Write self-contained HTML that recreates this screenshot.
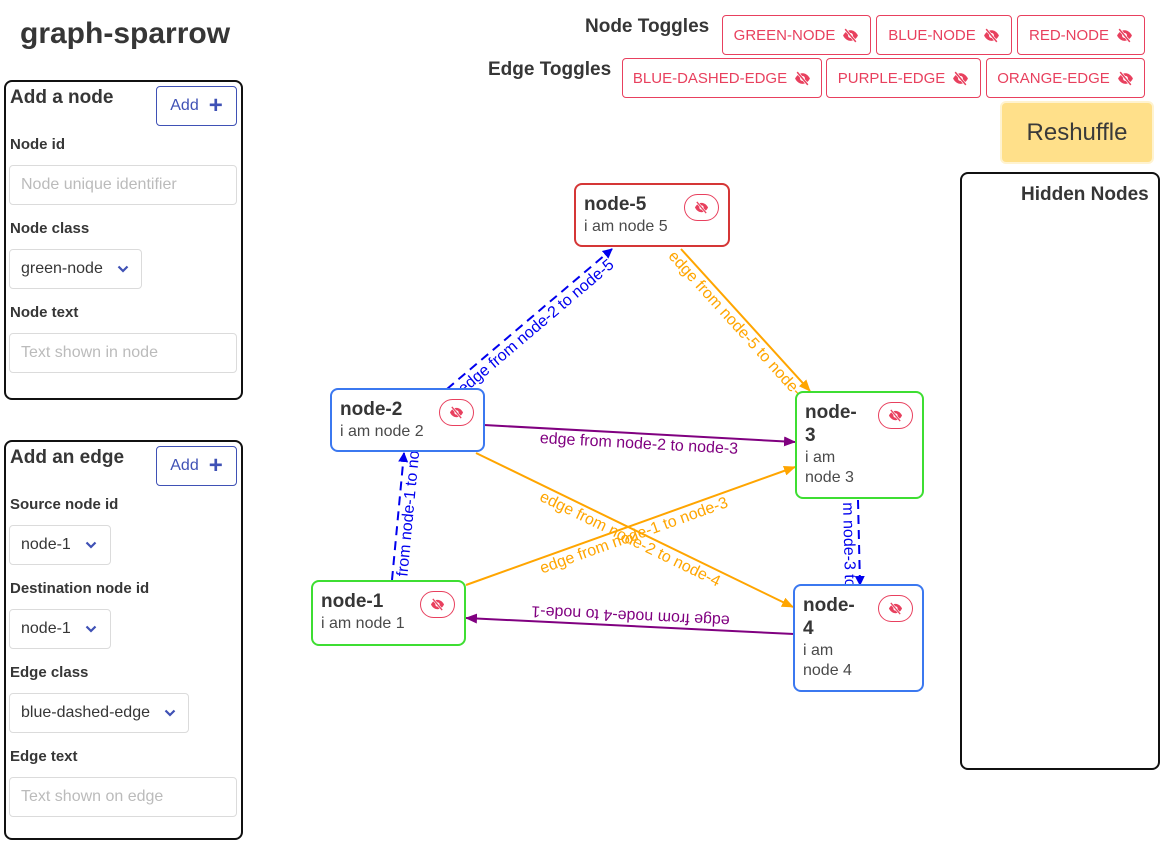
<!DOCTYPE html>
<html><head><meta charset="utf-8"><style>
*{box-sizing:border-box;margin:0;padding:0}
body{width:1163px;height:843px;position:relative;background:#fff;font-family:"Liberation Sans",sans-serif;color:#363636;overflow:hidden}
.a{position:absolute}
.panel{position:absolute;border:2px solid #111;border-radius:8px;background:#fff}
.h{position:absolute;font-weight:bold;font-size:19px;color:#363636}
.lbl{position:absolute;font-weight:bold;font-size:15px;color:#363636}
.inp{position:absolute;border:1px solid #dbdbdb;border-radius:4px;font-size:16px;color:#bbb;padding-left:11px;display:flex;align-items:center}
.sel{position:absolute;border:1px solid #dbdbdb;border-radius:4px;font-size:16px;color:#363636;padding-left:11px;display:flex;align-items:center}
.sel svg{margin-left:14px}
.add{position:absolute;border:1px solid #3f51b5;border-radius:4px;color:#3f51b5;font-size:16px;display:flex;align-items:center;justify-content:center;gap:10px;background:#fff}
.tg{position:absolute;border:1px solid #e8405e;border-radius:4px;color:#e8405e;font-size:15px;display:flex;align-items:center;justify-content:center;gap:7px;background:#fff;height:40px}
.node{position:absolute;border:2px solid;border-radius:8px;background:#fff;padding:8px 8px}
.node b{display:block;font-size:19px;color:#363636;line-height:23px}
.node span{display:block;font-size:16px;color:#4a4a4a;line-height:20px;margin-top:1px}
.eye{position:absolute;top:9px;right:9px;width:35px;height:27px;border:1px solid #e8405e;border-radius:14px;display:flex;align-items:center;justify-content:center}
</style></head><body>
<svg width="0" height="0" style="position:absolute"><defs>
<symbol id="es" viewBox="0 0 16 16"><path d="M1 8c2-4 5-5 7-5s5 1 7 5c-2 4-5 5-7 5S3 12 1 8z" fill="#e8405e"/><circle cx="8" cy="8" r="2.3" fill="#fff"/><line x1="3" y1="2" x2="13" y2="14" stroke="#fff" stroke-width="2.6"/><line x1="3" y1="2" x2="13" y2="14" stroke="#e8405e" stroke-width="1.4"/></symbol>
<symbol id="chev" viewBox="0 0 12 8"><path d="M1.5 1.5l4.5 4.5 4.5-4.5" fill="none" stroke="#3f51b5" stroke-width="2.2"/></symbol>
</defs></svg>

<div class="a" style="left:20px;top:17px;font-size:30px;font-weight:bold;color:#363636">graph-sparrow</div>

<div class="panel" style="left:4px;top:80px;width:239px;height:320px"></div>
<div class="h" style="left:10px;top:87px">Add a node</div>
<div class="add" style="left:156px;top:86px;width:81px;height:40px">Add <span style="font-size:24px;font-weight:bold;line-height:1">+</span></div>
<div class="lbl" style="left:10px;top:136px">Node id</div>
<div class="inp" style="left:9px;top:165px;width:228px;height:40px">Node unique identifier</div>
<div class="lbl" style="left:10px;top:220px">Node class</div>
<div class="sel" style="left:9px;top:249px;width:133px;height:40px">green-node<svg width="12" height="8"><use href="#chev"/></svg></div>
<div class="lbl" style="left:10px;top:304px">Node text</div>
<div class="inp" style="left:9px;top:333px;width:228px;height:40px">Text shown in node</div>

<div class="panel" style="left:4px;top:440px;width:239px;height:400px"></div>
<div class="h" style="left:10px;top:447px">Add an edge</div>
<div class="add" style="left:156px;top:446px;width:81px;height:40px">Add <span style="font-size:24px;font-weight:bold;line-height:1">+</span></div>
<div class="lbl" style="left:10px;top:496px">Source node id</div>
<div class="sel" style="left:9px;top:525px;width:102px;height:40px">node-1<svg width="12" height="8"><use href="#chev"/></svg></div>
<div class="lbl" style="left:10px;top:580px">Destination node id</div>
<div class="sel" style="left:9px;top:609px;width:102px;height:40px">node-1<svg width="12" height="8"><use href="#chev"/></svg></div>
<div class="lbl" style="left:10px;top:664px">Edge class</div>
<div class="sel" style="left:9px;top:693px;width:180px;height:40px">blue-dashed-edge<svg width="12" height="8"><use href="#chev"/></svg></div>
<div class="lbl" style="left:10px;top:748px">Edge text</div>
<div class="inp" style="left:9px;top:777px;width:228px;height:40px">Text shown on edge</div>

<div class="h" style="left:585px;top:16px">Node Toggles</div>
<div class="tg" style="left:722px;top:15px;width:149px">GREEN-NODE<svg width="17" height="17"><use href="#es"/></svg></div>
<div class="tg" style="left:876px;top:15px;width:136px">BLUE-NODE<svg width="17" height="17"><use href="#es"/></svg></div>
<div class="tg" style="left:1017px;top:15px;width:128px">RED-NODE<svg width="17" height="17"><use href="#es"/></svg></div>
<div class="h" style="left:488px;top:59px">Edge Toggles</div>
<div class="tg" style="left:622px;top:58px;width:200px">BLUE-DASHED-EDGE<svg width="17" height="17"><use href="#es"/></svg></div>
<div class="tg" style="left:826px;top:58px;width:155px">PURPLE-EDGE<svg width="17" height="17"><use href="#es"/></svg></div>
<div class="tg" style="left:986px;top:58px;width:159px">ORANGE-EDGE<svg width="17" height="17"><use href="#es"/></svg></div>

<div class="a" style="left:1000px;top:101px;width:154px;height:63px;border:2px solid #fff3d0;border-radius:6px;background:#ffe08a;display:flex;align-items:center;justify-content:center;font-size:24px;color:#3a3a3a">Reshuffle</div>

<div class="panel" style="left:960px;top:172px;width:200px;height:598px"></div>
<div class="h" style="left:1021px;top:184px">Hidden Nodes</div>

<svg class="a" style="left:0;top:0" width="1163" height="843">
<defs>
<marker id="mb" markerWidth="10" markerHeight="10" refX="9" refY="5" orient="auto" markerUnits="userSpaceOnUse"><path d="M0 0L10 5L0 10z" fill="#0000ee"/></marker>
<marker id="mo" markerWidth="12" markerHeight="10" refX="11" refY="5" orient="auto" markerUnits="userSpaceOnUse"><path d="M0 0L12 5L0 10z" fill="#ffa500"/></marker>
<marker id="mp" markerWidth="12" markerHeight="10" refX="11" refY="5" orient="auto" markerUnits="userSpaceOnUse"><path d="M0 0L12 5L0 10z" fill="#800080"/></marker>
<path id="e1" d="M447 389L612 249"/>
<path id="e2" d="M681 249L810 391"/>
<path id="e3" d="M484 425L795 442"/>
<path id="e4" d="M476 453L793 607"/>
<path id="e5" d="M466 585L795 467"/>
<path id="e6" d="M794 634L466 618"/>
<path id="e7" d="M392 580L404 453"/>
<path id="e8" d="M858 500L860 585"/>
</defs>
<g fill="none" stroke-width="2">
<use href="#e1" stroke="#0000ee" stroke-dasharray="9,6" marker-end="url(#mb)"/>
<use href="#e2" stroke="#ffa500" marker-end="url(#mo)"/>
<use href="#e3" stroke="#800080" marker-end="url(#mp)"/>
<use href="#e4" stroke="#ffa500" marker-end="url(#mo)"/>
<use href="#e5" stroke="#ffa500" marker-end="url(#mo)"/>
<use href="#e6" stroke="#800080" marker-end="url(#mp)"/>
<use href="#e7" stroke="#0000ee" stroke-dasharray="9,6" marker-end="url(#mb)"/>
<use href="#e8" stroke="#0000ee" stroke-dasharray="9,6" marker-end="url(#mb)"/>
</g>
<g font-size="16" font-family="Liberation Sans, sans-serif" text-anchor="middle">
<text fill="#0000ee" dy="15"><textPath href="#e1" startOffset="50%">edge from node-2 to node-5</textPath></text>
<text fill="#ffa500" dy="15"><textPath href="#e2" startOffset="50%">edge from node-5 to node-3</textPath></text>
<text fill="#800080" dy="15"><textPath href="#e3" startOffset="50%">edge from node-2 to node-3</textPath></text>
<text fill="#ffa500" dy="15"><textPath href="#e4" startOffset="50%">edge from node-2 to node-4</textPath></text>
<text fill="#ffa500" dy="15"><textPath href="#e5" startOffset="50%">edge from node-1 to node-3</textPath></text>
<text fill="#800080" dy="15"><textPath href="#e6" startOffset="50%">edge from node-4 to node-1</textPath></text>
<text fill="#0000ee" dy="15"><textPath href="#e7" startOffset="50%">edge from node-1 to node-2</textPath></text>
<text fill="#0000ee" dy="15"><textPath href="#e8" startOffset="50%">edge from node-3 to node-4</textPath></text>
</g>
</svg>

<div class="node" style="left:574px;top:183px;width:156px;height:64px;border-color:#d53636"><b>node-5</b><span>i am node 5</span><div class="eye"><svg width="15" height="15"><use href="#es"/></svg></div></div>
<div class="node" style="left:330px;top:388px;width:155px;height:64px;border-color:#3b78f0"><b>node-2</b><span>i am node 2</span><div class="eye"><svg width="15" height="15"><use href="#es"/></svg></div></div>
<div class="node" style="left:795px;top:391px;width:129px;height:108px;border-color:#3ede32"><b>node-<br>3</b><span>i am<br>node 3</span><div class="eye"><svg width="15" height="15"><use href="#es"/></svg></div></div>
<div class="node" style="left:311px;top:580px;width:155px;height:66px;border-color:#3ede32"><b>node-1</b><span>i am node 1</span><div class="eye"><svg width="15" height="15"><use href="#es"/></svg></div></div>
<div class="node" style="left:793px;top:584px;width:131px;height:108px;border-color:#3b78f0"><b>node-<br>4</b><span>i am<br>node 4</span><div class="eye"><svg width="15" height="15"><use href="#es"/></svg></div></div>
</body></html>
